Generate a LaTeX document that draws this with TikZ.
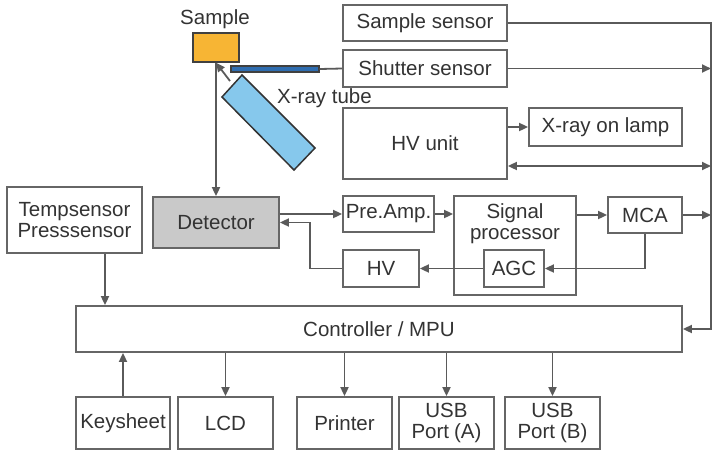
\documentclass[tikz,border=0pt]{standalone}
\usepackage{fontspec}
\setmainfont{Liberation Sans}
\usetikzlibrary{arrows.meta}
\definecolor{ln}{HTML}{5A5A5A}
\definecolor{bd}{HTML}{666666}
\definecolor{tx}{HTML}{333333}
\definecolor{detfill}{HTML}{C9C9C9}
\definecolor{smpfill}{HTML}{F7B534}
\definecolor{tubefill}{HTML}{86C8EC}
\definecolor{barfill}{HTML}{2F6DB0}
\tikzset{
  txt/.style={text=tx, font=\fontsize{20.5}{21}\selectfont},
  blk/.style={draw=bd, line width=1.8pt, fill=white, inner sep=0pt, align=center, txt},
  lbl/.style={inner sep=0pt, align=center, txt},
  conn/.style={draw=ln, line width=1.8pt, -{Triangle[length=9pt,width=8pt]}},
  dconn/.style={draw=ln, line width=1.8pt, {Triangle[length=9pt,width=8pt]}-{Triangle[length=9pt,width=8pt]}},
  plain/.style={draw=ln, line width=1.8pt},
}
\begin{document}
\begin{tikzpicture}[x=1pt,y=-1pt]
\useasboundingbox (0,0) rectangle (720,451);

% sample, shutter bar, tube
\node[lbl] (slbl) at (215,19) {Sample};
\node[draw=black!75, line width=1.4pt, fill=smpfill, minimum width=46pt, minimum height=29pt, inner sep=0pt] (sample) at (216,47.5) {};
\node[draw=black!75, line width=1.1pt, fill=barfill, minimum width=88pt, minimum height=6pt, inner sep=0pt] (bar) at (275,69) {};
\draw[draw=black!80, line width=1.5pt, fill=tubefill] (222,97) -- (242,75) -- (315,148) -- (294,170) -- cycle;
\coordinate (tubetop) at (230,81);
\node[lbl, anchor=west] (tlbl) at (277,98) {X-ray tube};

% right column
\node[blk, minimum width=164pt, minimum height=36pt] (ssens) at (425,23) {Sample sensor};
\node[blk, minimum width=164pt, minimum height=37pt] (shsens) at (425,68.5) {Shutter sensor};
\node[blk, minimum width=164pt, minimum height=71pt] (hvu) at (425,143.5) {HV unit};
\node[blk, minimum width=153pt, minimum height=38pt] (lamp) at (605.5,127) {X-ray on lamp};

% middle
\node[blk, minimum width=135pt, minimum height=66pt] (temp) at (74.5,220) {Tempsensor\\Presssensor};
\node[blk, fill=detfill, minimum width=126pt, minimum height=51pt] (det) at (216,222.5) {Detector};
\node[blk, minimum width=91pt, minimum height=36pt] (pre) at (388.5,214) {Pre.Amp.};
\node[blk, minimum width=122pt, minimum height=99pt] (sig) at (515,245.5) {};
\node[lbl] (sigt) at (515,224) {Signal\\processor};
\node[blk, minimum width=60pt, minimum height=37pt] (agc) at (514,268.5) {AGC};
\node[blk, minimum width=74pt, minimum height=36pt] (mca) at (645,215) {MCA};
\node[blk, minimum width=76pt, minimum height=37pt] (hv) at (381,268.5) {HV};

% controller and bottom
\node[blk, minimum width=606pt, minimum height=46pt] (ctrl) at (379,329) {Controller / MPU};
\node[blk, minimum width=94pt, minimum height=52pt] (key) at (123,423) {Keysheet};
\node[blk, minimum width=95pt, minimum height=52pt] (lcd) at (225.5,423) {LCD};
\node[blk, minimum width=95pt, minimum height=52pt] (prn) at (344.5,423) {Printer};
\node[blk, minimum width=95pt, minimum height=52pt] (usba) at (446.5,423) {USB\\Port\hspace{5pt}(A)};
\node[blk, minimum width=95pt, minimum height=52pt] (usbb) at (552.5,423) {USB\\Port\hspace{5pt}(B)};

% bus coordinates
\coordinate (bshut) at (711,68.5);
\coordinate (bhv) at (711,166);
\coordinate (bmca) at (711,215);
\coordinate (bctrl) at (711,329);
\coordinate (tx) at (105,0);
\coordinate (loopx) at (310,0);

% connectors
\draw[conn] (tubetop) -- (sample.south);
\draw[conn] (sample.south) -- (det.north);
\draw[plain] (bar.east) -- (shsens.west);
\draw[conn] (ssens.east) -| (bctrl) -- (ctrl.east);
\draw[conn] (shsens.east) -- (bshut);
\draw[conn] (hvu.east |- lamp.west) -- (lamp.west);
\draw[dconn] (hvu.east |- bhv) -- (bhv);
\draw[conn] (det.east |- pre.west) -- (pre.west);
\draw[conn] (pre.east) -- (sig.west |- pre.east);
\draw[conn] (sig.east |- mca.west) -- (mca.west);
\draw[conn] (mca.east) -- (bmca);
\draw[conn] (mca.south) |- (agc.east);
\draw[conn] (agc.west) -- (hv.east);
\draw[conn] (hv.west) -| (loopx |- det.east) -- (det.east);
\draw[conn] (temp.south -| tx) -- (ctrl.north -| tx);
\draw[conn] (key.north) -- (ctrl.south -| key.north);
\draw[conn] (ctrl.south -| lcd.north) -- (lcd.north);
\draw[conn] (ctrl.south -| prn.north) -- (prn.north);
\draw[conn] (ctrl.south -| usba.north) -- (usba.north);
\draw[conn] (ctrl.south -| usbb.north) -- (usbb.north);
\end{tikzpicture}
\end{document}
